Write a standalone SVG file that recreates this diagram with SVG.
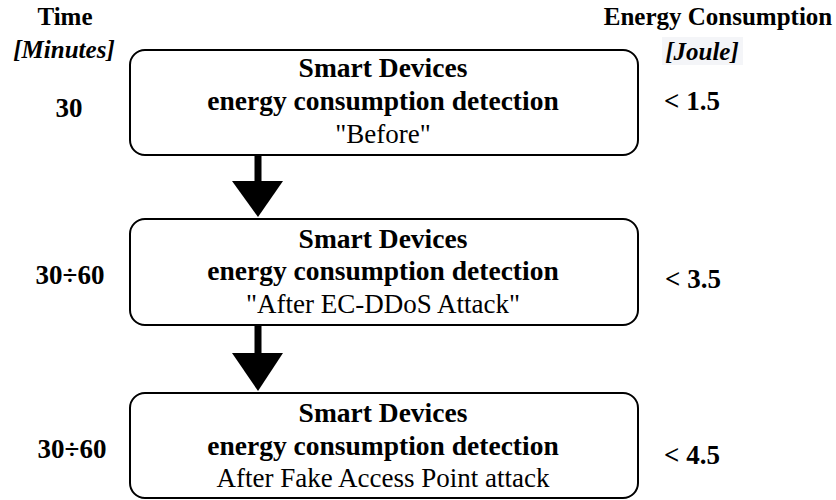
<svg xmlns="http://www.w3.org/2000/svg" width="836" height="500" viewBox="0 0 836 500">
<style>
.box{fill:#fff;stroke:#000;stroke-width:2}
.t{font-family:"Liberation Serif","Times New Roman",serif;fill:#000;text-anchor:middle}
.b{font-weight:bold;font-size:27.5px}
.r{font-size:27px}
.h{font-weight:bold;font-size:25px}
.hi{font-weight:bold;font-style:italic;font-size:25px}
.n{font-weight:bold;font-size:27px}
.shaft{fill:#000}
</style>
<rect width="836" height="500" fill="#fff"/>
<g id="labels">
<text class="t h" x="65" y="25">Time</text>
<text class="t hi" x="64" y="58">[Minutes]</text>
<text class="t h" x="718" y="25">Energy Consumption</text>
<rect x="662" y="37" width="81" height="28" fill="#f4f5f8"/>
<text class="t hi" x="702" y="60">[Joule]</text>
<text class="t n" x="69" y="117">30</text>
<text class="t n" x="692" y="110">&lt; 1.5</text>
<text class="t n" x="70" y="284">30÷60</text>
<text class="t n" x="693" y="288">&lt; 3.5</text>
<text class="t n" x="72" y="458">30÷60</text>
<text class="t n" x="692" y="464">&lt; 4.5</text>
</g>
<g id="connectors">
<rect class="shaft" x="254.5" y="155" width="7" height="27"/>
<polygon points="232,181 283,181 258,217"/>
<rect class="shaft" x="254.5" y="325" width="7" height="29"/>
<polygon points="232,353 283,353 258,391"/>
</g>
<g id="node1">
<rect class="box" x="130" y="50" width="508" height="105" rx="15"/>
<text class="t b" x="383" y="77">Smart Devices</text>
<text class="t b" x="383" y="110">energy consumption detection</text>
<text class="t r" x="383" y="143">"Before"</text>
</g>
<g id="node2">
<rect class="box" x="130" y="219" width="508" height="106" rx="15"/>
<text class="t b" x="383" y="248">Smart Devices</text>
<text class="t b" x="383" y="280">energy consumption detection</text>
<text class="t r" x="383" y="313">"After EC-DDoS Attack"</text>
</g>
<g id="node3">
<rect class="box" x="130" y="393" width="508" height="105" rx="15"/>
<text class="t b" x="383" y="422">Smart Devices</text>
<text class="t b" x="383" y="455">energy consumption detection</text>
<text class="t r" x="383" y="487">After Fake Access Point attack</text>
</g>
</svg>
